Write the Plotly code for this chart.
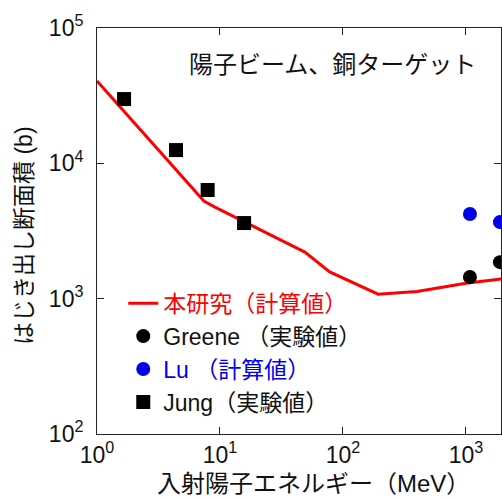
import plotly.graph_objects as go

# Calculated sputtering (displacement) cross-section, this work
calc_energy = [1, 7.4, 9.1, 49, 78, 193, 400, 615, 1000, 1930]
calc_xs = [40500, 5260, 4750, 2210, 1575, 1080, 1130, 1200, 1300, 1400]

# Greene (experiment)
greene_energy = [1078, 1890]
greene_xs = [1445, 1862]

# Lu (calculation)
lu_energy = [1078, 1890]
lu_xs = [4220, 3680]

# Jung (experiment)
jung_energy = [1.66, 4.39, 7.94, 15.7]
jung_xs = [29850, 12530, 6350, 3620]

x_tickvals = [1, 10, 100, 1000]
x_ticktext = ["10<sup>0</sup>", "10<sup>1</sup>", "10<sup>2</sup>", "10<sup>3</sup>"]
y_tickvals = [100, 1000, 10000, 100000]
y_ticktext = ["10<sup>2</sup>", "10<sup>3</sup>", "10<sup>4</sup>", "10<sup>5</sup>"]

FONT = "Liberation Sans, Arial, Noto Sans CJK JP"

fig = go.Figure()
fig.add_trace(go.Scatter(
    x=calc_energy, y=calc_xs, mode="lines",
    line=dict(color="#ff0000", width=3),
    name='<span style="color:#ff0000">本研究（計算値）</span>',
))
fig.add_trace(go.Scatter(
    x=greene_energy, y=greene_xs, mode="markers",
    marker=dict(color="black", size=14, symbol="circle"),
    name="Greene （実験値）",
))
fig.add_trace(go.Scatter(
    x=lu_energy, y=lu_xs, mode="markers",
    marker=dict(color="#0000ee", size=14, symbol="circle"),
    name='<span style="color:#0000ee">Lu （計算値）</span>',
))
fig.add_trace(go.Scatter(
    x=jung_energy, y=jung_xs, mode="markers",
    marker=dict(color="black", size=14, symbol="square"),
    name="Jung（実験値）",
))

axis_common = dict(
    type="log", showline=True, linecolor="#222", linewidth=1, mirror="ticks",
    ticks="inside", ticklen=7, tickcolor="#222", tickwidth=1,
    showgrid=False, zeroline=False, tickmode="array",
    tickfont=dict(family=FONT, size=23, color="#111"),
)

fig.update_xaxes(range=[0, 3.285], tickvals=x_tickvals, ticktext=x_ticktext, **axis_common)
fig.update_yaxes(range=[2, 5], tickvals=y_tickvals, ticktext=y_ticktext,
                 ticklabelstandoff=8, **axis_common)

fig.update_layout(
    width=502, height=500,
    margin=dict(l=97, r=1, t=28, b=66),
    paper_bgcolor="white", plot_bgcolor="white",
    font=dict(family=FONT, size=22, color="#111"),
    showlegend=True,
    legend=dict(
        x=0.065, y=0.375, xanchor="left", yanchor="top",
        bgcolor="rgba(0,0,0,0)", borderwidth=0,
        font=dict(family=FONT, size=23, color="#111"),
        itemsizing="trace", traceorder="normal",
    ),
    annotations=[
        dict(text="陽子ビーム、銅ターゲット", xref="paper", yref="paper",
             x=0.582, y=0.909, xanchor="center", yanchor="middle",
             showarrow=False, font=dict(family=FONT, size=24, color="#111")),
        dict(text="入射陽子エネルギー（MeV）", xref="paper", yref="paper",
             x=0.537, y=-0.121, xanchor="center", yanchor="middle",
             showarrow=False, font=dict(family=FONT, size=24, color="#111")),
        dict(text="はじき出し断面積 (b)", xref="paper", yref="paper",
             x=-0.181, y=0.49, xanchor="center", yanchor="middle", textangle=-90,
             showarrow=False, font=dict(family=FONT, size=23, color="#111")),
    ],
)

fig.write_html("out.html")
